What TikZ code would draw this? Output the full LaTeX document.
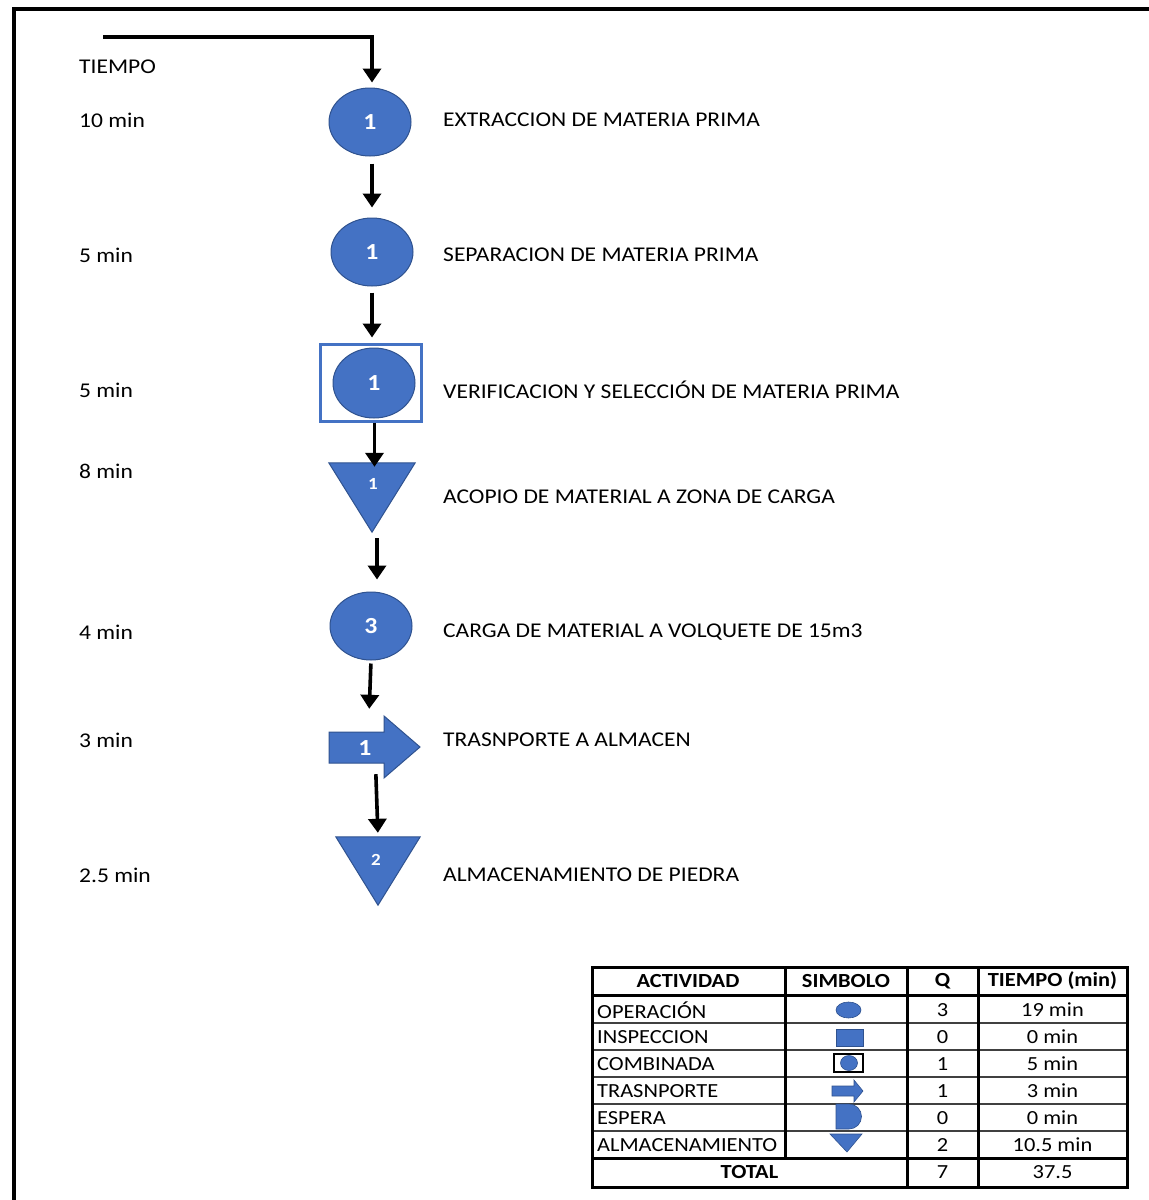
\documentclass[tikz,border=0pt]{standalone}
\usepackage{fontspec}
\setmainfont[FakeStretch=1.12]{Carlito}
\usetikzlibrary{shapes.geometric,arrows.meta,calc}
\definecolor{opblue}{HTML}{4472C4}
\definecolor{opedge}{HTML}{2F528F}
\tikzset{
  opfill/.style={fill=opblue,draw=opedge,line width=1pt},
  opnode/.style={ellipse,opfill,inner sep=0pt,minimum width=82pt,minimum height=68pt,
    text=white,font=\fontsize{23}{23}\selectfont\bfseries},
  framebox/.style={inner sep=0pt},
  flow/.style={line width=3.6pt,-{Triangle[length=14pt,width=18pt]}},
  timelbl/.style={anchor=west,inner sep=0pt,font=\fontsize{21}{21}\selectfont},
  desclbl/.style={anchor=west,inner sep=0pt,font=\fontsize{21}{21}\selectfont},
  numlbl/.style={text=white,inner sep=0pt,font=\fontsize{23}{23}\selectfont\bfseries},
  smallnum/.style={text=white,inner sep=0pt,font=\fontsize{17}{17}\selectfont\bfseries},
  celltxt/.style={inner sep=0pt,font=\fontsize{20}{20}\selectfont},
  headtxt/.style={inner sep=0pt,font=\fontsize{20}{20}\selectfont\bfseries},
  thinrule/.style={line width=1.4pt,draw=black!75},
  thickrule/.style={line width=3pt},
}
\begin{document}
\begin{tikzpicture}[x=1pt,y=-1pt]
\useasboundingbox (0,0) rectangle (1149,1200);
\fill[white] (0,0) rectangle (1149,1200);

% outer frame
\draw[line width=4pt] (14,1202) -- (14,9) -- (1151,9);

% column headings and times
\node[timelbl] (tiempo) at (79,67) {TIEMPO};
\node[timelbl] (t1) at (79,120) {10 min};
\node[timelbl] (t2) at (79,255) {5 min};
\node[timelbl] (t3) at (79,390) {5 min};
\node[timelbl] (t4) at (79,471) {8 min};
\node[timelbl] (t5) at (79,632) {4 min};
\node[timelbl] (t6) at (79,740) {3 min};
\node[timelbl] (t7) at (79,875) {2.5 min};

% process symbols
\node[opnode] (op1) at (370,122) {1};
\node[opnode] (op2) at (372,252) {1};
\node[framebox,draw=opblue,line width=3pt,minimum width=101pt,minimum height=77pt] (comb) at (370.5,382.5) {};
\node[opnode,minimum height=70pt] (op3) at (374,383) {1};

\node[framebox,minimum width=86pt,minimum height=69pt] (st1) at (372,497.5) {};
\fill[opfill] (st1.north west) -- (st1.north east) -- (st1.south) -- cycle;
\node[smallnum] (st1n) at (373,484) {1};

\node[opnode] (op4) at (371,626) {3};

\node[framebox,minimum width=91pt,minimum height=62pt] (tr) at (374.5,747) {};
\fill[opfill] (329,732) -- (384,732) -- (384,716) -- (420,747) -- (384,778)
  -- (384,763) -- (329,763) -- cycle;
\node[numlbl] (trn) at (365,748) {1};

\node[framebox,minimum width=84pt,minimum height=68pt] (st2) at (378,871) {};
\fill[opfill] (st2.north west) -- (st2.north east) -- (st2.south) -- cycle;
\node[smallnum] (st2n) at (376,860) {2};

% flow connectors
\coordinate (start) at (105,37);
\draw[flow,line cap=rect] (start) -| ([xshift=2pt,yshift=5pt]op1.north);
\draw[flow,shorten <=7pt,shorten >=10pt] ([xshift=2pt]op1.south) -- ([xshift=2pt]op1.south |- op2.north);
\draw[flow,shorten <=6pt,shorten >=5pt] (op2.south) -- (op2.south |- comb.north);
\draw[flow,shorten >=-4pt] ([xshift=4pt]comb.south) -- ([xshift=4pt]comb.south |- st1.north);
\draw[flow,shorten <=6pt,shorten >=12pt] ([xshift=5pt]st1.south) -- ([xshift=5pt]st1.south |- op4.north);
\draw[flow,shorten <=3pt,shorten >=7pt] (op4.south) -- ([xshift=-2pt]op4.south |- tr.north);
\draw[flow,shorten <=-4pt,shorten >=4pt] ([xshift=1.5pt]tr.south) -- ([xshift=3.5pt]tr.south |- st2.north);

% descriptions
\node[desclbl] (d1) at (443,120) {EXTRACCION DE MATERIA PRIMA};
\node[desclbl] (d2) at (443,255) {SEPARACION DE MATERIA PRIMA};
\node[desclbl] (d3) at (443,390) {VERIFICACION Y SELECCIÓN DE MATERIA PRIMA};
\node[desclbl] (d4) at (443,497) {ACOPIO DE MATERIAL A ZONA DE CARGA};
\node[desclbl] (d5) at (443,632) {CARGA DE MATERIAL A VOLQUETE DE 15m3};
\node[desclbl] (d6) at (443,740) {TRASNPORTE A ALMACEN};
\node[desclbl] (d7) at (443,875) {ALMACENAMIENTO DE PIEDRA};

% summary table
\foreach \yy in {1023,1050,1077,1104,1131}
  \draw[thinrule] (592,\yy) -- (1127,\yy);
\draw[thickrule] (592,995) -- (1127,995);
\draw[thickrule] (592,1158) -- (1127,1158);
\draw[thickrule] (785,967) -- (785,1158);
\draw[thickrule] (907,967) -- (907,1187);
\draw[thickrule] (978,967) -- (978,1187);
\draw[thickrule] (592,967) rectangle (1127,1187);

\node[headtxt] (h1) at (688,981) {ACTIVIDAD};
\node[headtxt] (h2) at (846,981) {SIMBOLO};
\node[headtxt] (h3) at (942.5,981) {Q};
\node[headtxt] (h4) at (1052.5,981) {TIEMPO (min)};

\node[celltxt,anchor=west] (a1) at (597,1010) {OPERACIÓN};
\node[celltxt,anchor=west] (a2) at (597,1037) {INSPECCION};
\node[celltxt,anchor=west] (a3) at (597,1064) {COMBINADA};
\node[celltxt,anchor=west] (a4) at (597,1091) {TRASNPORTE};
\node[celltxt,anchor=west] (a5) at (597,1118) {ESPERA};
\node[celltxt,anchor=west] (a6) at (597,1145) {ALMACENAMIENTO};
\node[headtxt] (tot) at (749.5,1172) {TOTAL};

\foreach \v/\yy [count=\i] in {3/1010,0/1037,1/1064,1/1091,0/1118,2/1145,7/1172}
  \node[celltxt] (q\i) at (942.5,\yy) {\v};
\foreach \v/\yy [count=\i] in {19 min/1010,0 min/1037,5 min/1064,3 min/1091,0 min/1118,10.5 min/1145,37.5/1172}
  \node[celltxt] (m\i) at (1052.5,\yy) {\v};

% legend symbols
\fill[opfill,line width=0.6pt] (848.5,1010) ellipse [x radius=12.5, y radius=8];
\fill[opfill,line width=0.6pt] (836,1029) rectangle (863,1046);
\draw[line width=1.5pt] (834,1054) rectangle (863,1072);
\fill[opfill,line width=0.6pt] (849,1063) ellipse [x radius=8.5, y radius=7.5];
\fill[opfill,line width=0.6pt] (832,1086) -- (854,1086) -- (854,1080) -- (863,1091)
  -- (854,1102) -- (854,1096) -- (832,1096) -- cycle;
\fill[opfill,line width=0.6pt] (836,1104) -- (849,1104)
  arc[start angle=-90,end angle=90,radius=12.5] -- (836,1129) -- cycle;
\fill[opfill,line width=0.6pt] (830,1134) -- (862,1134) -- (847,1152) -- cycle;
\end{tikzpicture}
\end{document}
